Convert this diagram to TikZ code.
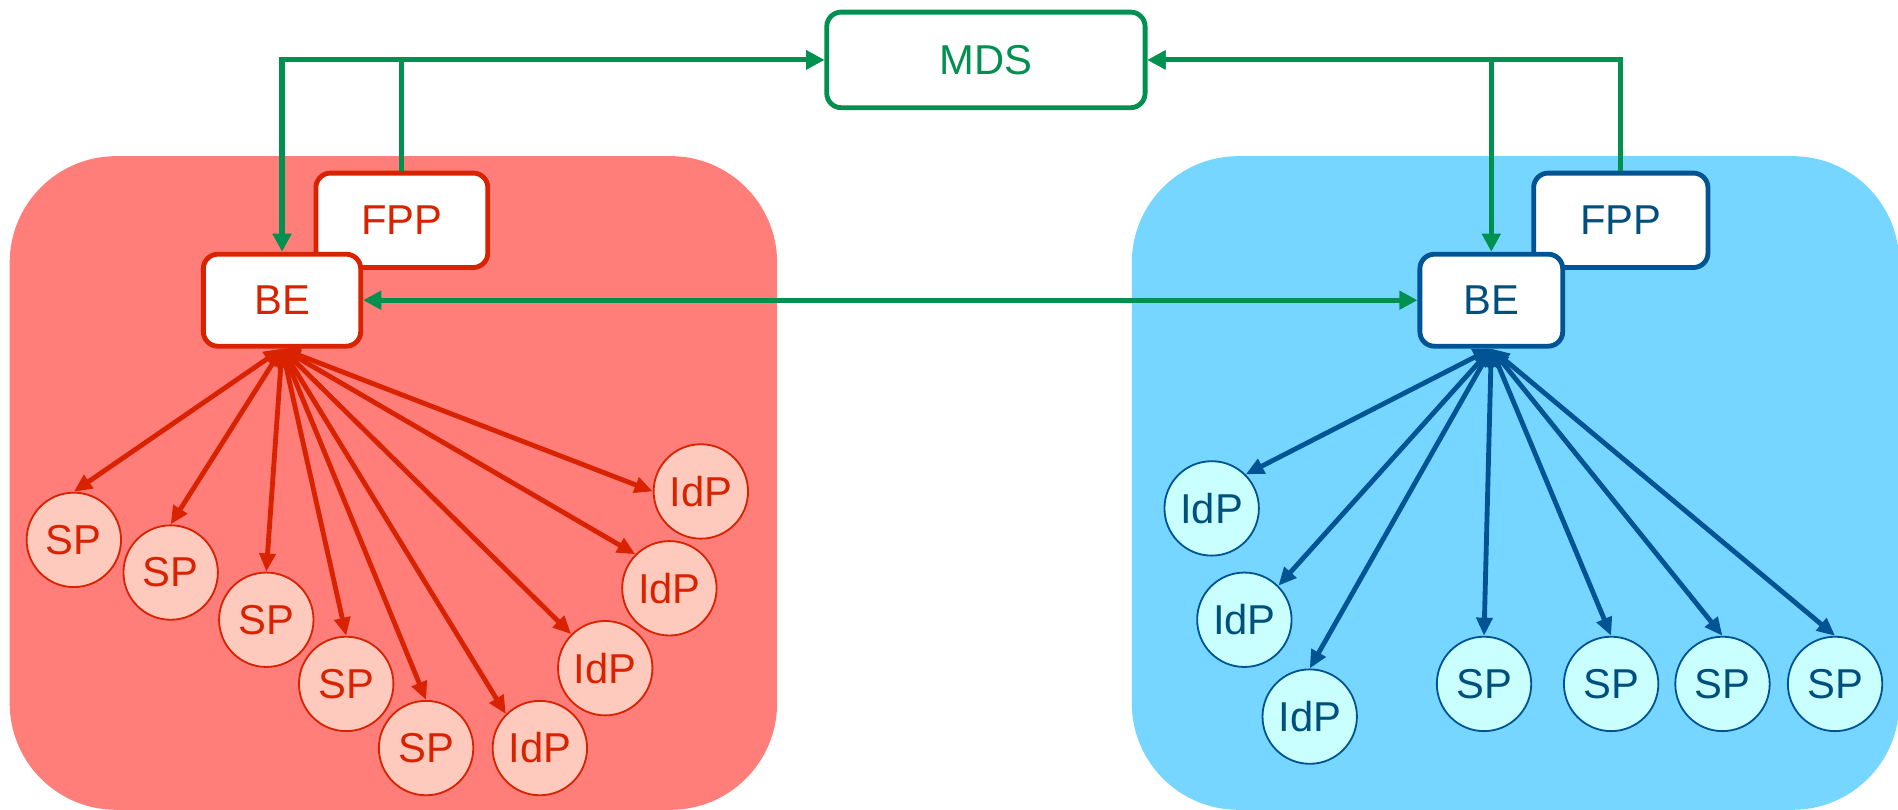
\documentclass[tikz,border=0pt]{standalone}
\usepackage{fontspec}
\setmainfont{Liberation Sans}
\usetikzlibrary{arrows.meta}
\definecolor{gr}{RGB}{0,145,80}
\definecolor{redc}{RGB}{216,34,0}
\definecolor{pinkreg}{RGB}{255,126,121}
\definecolor{salmon}{RGB}{255,202,190}
\definecolor{bluereg}{RGB}{118,214,255}
\definecolor{darkb}{RGB}{0,84,147}
\definecolor{darkbt}{RGB}{0,80,125}
\definecolor{cyanc}{RGB}{202,255,255}
\begin{document}
\begin{tikzpicture}[x=1pt,y=-1pt,
  lbl/.style={font=\fontsize{34.5}{40}\selectfont},
  box/.style={lbl, draw, line width=4pt, rounded corners=12pt, fill=white, inner sep=0pt},
  redbox/.style={box, draw=redc, text=redc},
  bluebox/.style={box, draw=darkb, text=darkbt},
  greenbox/.style={box, draw=gr, text=gr},
  circnode/.style={lbl, circle, draw, line width=1.5pt, minimum size=78pt, inner sep=0pt},
  redcirc/.style={circnode, draw=redc, fill=salmon, text=redc},
  bluecirc/.style={circnode, draw=darkb, fill=cyanc, text=darkbt},
  garr/.style={draw=gr, line width=4.2pt},
  gtip/.tip={Triangle[length=15pt,width=15pt]},
  rtip/.tip={Triangle[length=15pt,width=13pt]},
  redarr/.style={draw=redc, line width=4pt, rtip-rtip},
  bluearr/.style={draw=darkb, line width=4pt, rtip-rtip}]
\useasboundingbox (0,0) rectangle (1568,669);
% regions
\fill[pinkreg, rounded corners=88pt] (8,129) rectangle (642,669);
\fill[bluereg, rounded corners=88pt] (935,129) rectangle (1569,669);
% boxes
\node[redbox, minimum width=142pt, minimum height=78pt] (fppL) at (332,182) {FPP};
\node[redbox, minimum width=130pt, minimum height=76pt] (beL) at (233,248) {BE};
\node[bluebox, minimum width=144pt, minimum height=78pt] (fppR) at (1339,182) {FPP};
\node[bluebox, minimum width=118pt, minimum height=76pt] (beR) at (1232,248) {BE};
\node[greenbox, minimum width=263pt, minimum height=79pt] (mds) at (814.5,49.5) {MDS};
% left circles
\node[redcirc] (spL1) at (61,446) {SP};
\node[redcirc] (spL2) at (141,473) {SP};
\node[redcirc] (spL3) at (220,512) {SP};
\node[redcirc] (spL4) at (286,565) {SP};
\node[redcirc] (spL5) at (352,618) {SP};
\node[redcirc] (idpL1) at (446,618) {IdP};
\node[redcirc] (idpL2) at (500,552) {IdP};
\node[redcirc] (idpL3) at (553,486) {IdP};
\node[redcirc] (idpL4) at (579,406) {IdP};
% right circles
\node[bluecirc] (idpR1) at (1001,420) {IdP};
\node[bluecirc] (idpR2) at (1028,512) {IdP};
\node[bluecirc] (idpR3) at (1082,592) {IdP};
\node[bluecirc] (spR1) at (1226,565) {SP};
\node[bluecirc] (spR2) at (1331,565) {SP};
\node[bluecirc] (spR3) at (1423,565) {SP};
\node[bluecirc] (spR4) at (1516,565) {SP};
% green connectors
\draw[garr, -gtip] (fppL.north) |- (mds.west);
\draw[garr, gtip-gtip] (mds.west) -| (beL.north);
\draw[garr, -gtip] (fppR.north) |- (mds.east);
\draw[garr, gtip-gtip] (mds.east) -| (beR.north);
\draw[garr, gtip-gtip] (beL.east) -- (beR.west);
% red connectors
\draw[redarr] (beL.south) -- (spL1.north);
\draw[redarr] (beL.south) -- (spL2.north);
\draw[redarr] (beL.south) -- (spL3.north);
\draw[redarr] (beL.south) -- (spL4.north);
\draw[redarr] (beL.south) -- (spL5.north);
\draw[redarr] (beL.south) -- (idpL1.north west);
\draw[redarr] (beL.south) -- (idpL2.north west);
\draw[redarr] (beL.south) -- (idpL3.north west);
\draw[redarr] (beL.south) -- (idpL4.west);
% blue connectors
\draw[bluearr] (beR.south) -- (idpR1.north east);
\draw[bluearr] (beR.south) -- (idpR2.north east);
\draw[bluearr] (beR.south) -- (idpR3.north);
\draw[bluearr] (beR.south) -- (spR1.north);
\draw[bluearr] (beR.south) -- (spR2.north);
\draw[bluearr] (beR.south) -- (spR3.north);
\draw[bluearr] (beR.south) -- (spR4.north);
\end{tikzpicture}
\end{document}
